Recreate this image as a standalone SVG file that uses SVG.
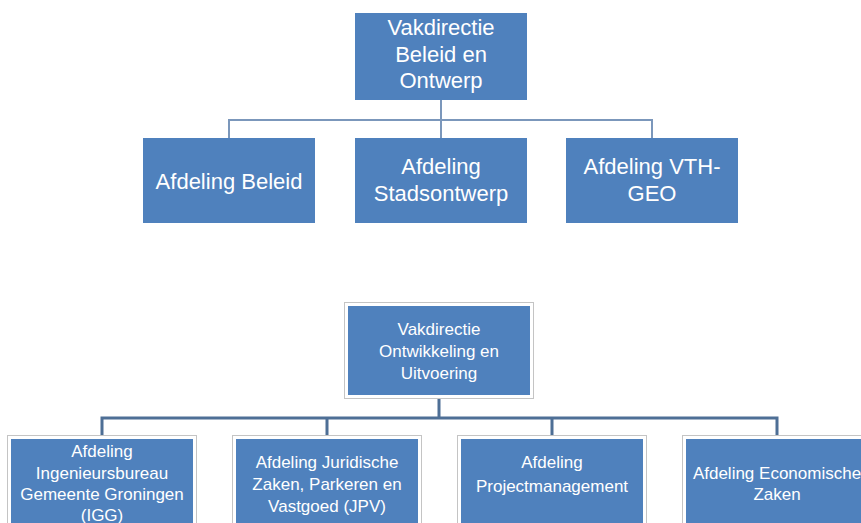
<svg xmlns="http://www.w3.org/2000/svg" width="861" height="523" viewBox="0 0 861 523">
<style>
.box{fill:#4F81BD}
.box2{fill:#4F81BD;stroke:#ffffff;stroke-width:3}
.frame{fill:none;stroke:#c4c4c4;stroke-width:1}
.t1{font-family:"Liberation Sans",Arial,sans-serif;font-size:22px;fill:#ffffff;text-anchor:middle}
.t2{font-family:"Liberation Sans",Arial,sans-serif;font-size:17px;fill:#ffffff;text-anchor:middle}
.c1{fill:none;stroke:#7b97bb;stroke-width:2}
.c2{fill:none;stroke:#4e6f96;stroke-width:3}
</style>
<rect width="861" height="523" fill="#ffffff"/>
<g id="connectors">
<path class="c1" d="M441 100 V120 M229 138 V120 H652 V138 M441 120 V138"/>
<path class="c2" d="M439 397 V418 M102 437 V418 H777 V437 M327 418 V437 M552 418 V437"/>
</g>
<g id="n-beleid-ontwerp">
<rect class="box" x="355" y="13" width="172" height="87"/>
<text class="t1" x="441" y="35">Vakdirectie</text>
<text class="t1" x="441" y="62">Beleid en</text>
<text class="t1" x="441" y="88">Ontwerp</text>
</g>
<g id="n-beleid">
<rect class="box" x="143" y="138" width="172" height="85"/>
<text class="t1" x="229" y="189">Afdeling Beleid</text>
</g>
<g id="n-stadsontwerp">
<rect class="box" x="355" y="138" width="172" height="85"/>
<text class="t1" x="441" y="174">Afdeling</text>
<text class="t1" x="441" y="201">Stadsontwerp</text>
</g>
<g id="n-vth">
<rect class="box" x="566" y="138" width="172" height="85"/>
<text class="t1" x="652" y="174">Afdeling VTH-</text>
<text class="t1" x="652" y="201">GEO</text>
</g>
<g id="n-ontwikkeling">
<rect class="frame" x="344.5" y="302.5" width="189" height="96"/>
<rect class="box2" x="346.5" y="304.5" width="185" height="92"/>
<text class="t2" x="439" y="335">Vakdirectie</text>
<text class="t2" x="439" y="357">Ontwikkeling en</text>
<text class="t2" x="439" y="379">Uitvoering</text>
</g>
<g id="n-igg">
<rect class="frame" x="7.5" y="435.5" width="189" height="96"/>
<rect class="box2" x="9.5" y="437.5" width="185" height="92"/>
<text class="t2" x="102" y="457">Afdeling</text>
<text class="t2" x="102" y="479">Ingenieursbureau</text>
<text class="t2" x="102" y="500">Gemeente Groningen</text>
<text class="t2" x="102" y="521">(IGG)</text>
</g>
<g id="n-jpv">
<rect class="frame" x="232.5" y="435.5" width="189" height="96"/>
<rect class="box2" x="234.5" y="437.5" width="185" height="92"/>
<text class="t2" x="327" y="468">Afdeling Juridische</text>
<text class="t2" x="327" y="490">Zaken, Parkeren en</text>
<text class="t2" x="327" y="512">Vastgoed (JPV)</text>
</g>
<g id="n-projectmanagement">
<rect class="frame" x="457.5" y="435.5" width="189" height="96"/>
<rect class="box2" x="459.5" y="437.5" width="185" height="92"/>
<text class="t2" x="552" y="468">Afdeling</text>
<text class="t2" x="552" y="492">Projectmanagement</text>
</g>
<g id="n-ez">
<rect class="frame" x="682.5" y="435.5" width="189" height="96"/>
<rect class="box2" x="684.5" y="437.5" width="185" height="92"/>
<text class="t2" x="777" y="479">Afdeling Economische</text>
<text class="t2" x="777" y="500">Zaken</text>
</g>
</svg>
